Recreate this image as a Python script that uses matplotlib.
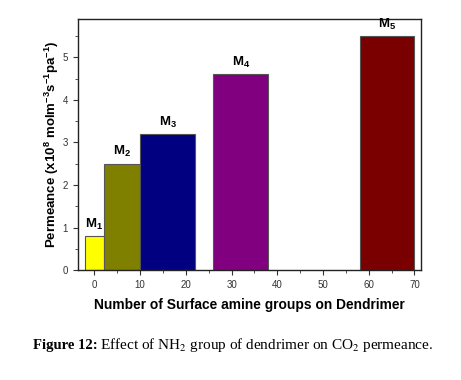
import matplotlib
matplotlib.use("Agg")
import matplotlib.pyplot as plt
from matplotlib.ticker import MultipleLocator

# bar edges along the x axis (number of surface amine groups) and permeance values
left_edges = [-2, 2, 10, 26, 58]
right_edges = [2, 10, 22, 38, 70]
permeance = [0.8, 2.5, 3.2, 4.6, 5.5]
labels = ["M$_\\mathbf{1}$", "M$_\\mathbf{2}$", "M$_\\mathbf{3}$", "M$_\\mathbf{4}$", "M$_\\mathbf{5}$"]
colors = ["#ffff00", "#808000", "#000080", "#800080", "#7a0000"]
x_ticks = [0, 10, 20, 30, 40, 50, 60, 70]
y_ticks = [0, 1, 2, 3, 4, 5]

plt.rcParams['font.family'] = ['Liberation Sans', 'DejaVu Sans']
plt.rcParams['mathtext.fontset'] = 'custom'
plt.rcParams['mathtext.rm'] = 'Liberation Sans:bold'
plt.rcParams['mathtext.bf'] = 'Liberation Sans:bold'
plt.rcParams['mathtext.it'] = 'Liberation Sans:bold'

fig = plt.figure(figsize=(4.61, 3.80), dpi=100)
ax = fig.add_axes([0.169, 0.289, 0.744, 0.661])

for l, r, h, c, lab in zip(left_edges, right_edges, permeance, colors, labels):
    ax.bar(l, h, width=r - l, align='edge', color=c, edgecolor='#555555', linewidth=0.8)
    ax.text((l + r) / 2, h + 0.1, lab, ha='center', va='bottom',
            fontsize=9.5, fontweight='bold')

ax.set_xlim(-3.6, 71.4)
ax.set_ylim(0, 5.9)
ax.set_xticks(x_ticks)
ax.set_yticks(y_ticks)
ax.xaxis.set_minor_locator(MultipleLocator(5))
ax.yaxis.set_minor_locator(MultipleLocator(0.5))
ax.tick_params(which='both', direction='out', labelsize=7, labelcolor='#333333',
               color='#333333', top=False, right=False)
ax.tick_params(which='major', length=3.5, width=0.8)
ax.tick_params(which='minor', length=2, width=0.6)
for s in ax.spines.values():
    s.set_linewidth(1.0)
    s.set_color('#222222')

ax.set_xlabel("Number of Surface amine groups on Dendrimer", fontsize=9.9,
              fontweight='bold', labelpad=6)
ax.set_ylabel("Permeance (x10$^{8}$ molm$^{-3}$s$^{-1}$pa$^{-1}$)", fontsize=9.5,
              fontweight='bold', labelpad=1)

# caption under the chart, in two pieces
cap_y = 0.092
fig.text(0.072, cap_y, "Figure 12:", ha='left', va='center', fontsize=10.5,
         family='Liberation Serif', fontweight='bold')
fig.text(0.217, cap_y, "Effect of NH$_2$ group of dendrimer on CO$_2$ permeance.",
         ha='left', va='center', fontsize=11, family='Liberation Serif',
         math_fontfamily='stix')

fig.savefig("out.png", dpi=100)
